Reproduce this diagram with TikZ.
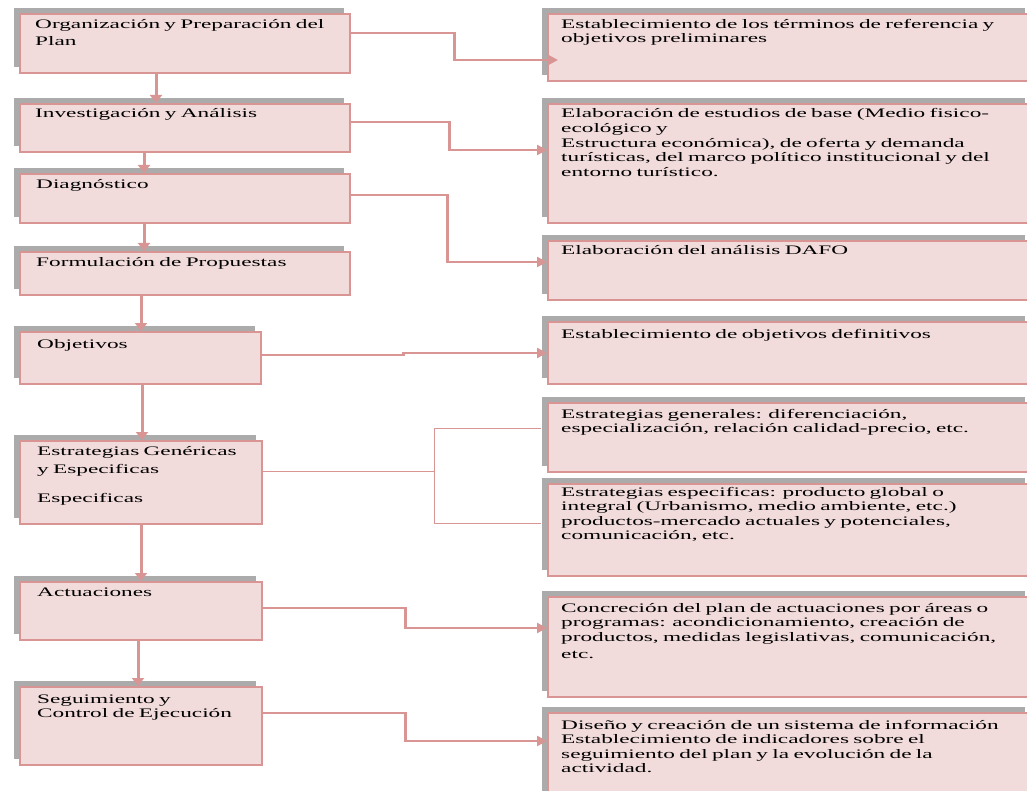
\documentclass[tikz,border=0pt]{standalone}
\usepackage{fontspec}
\setmainfont{Liberation Serif}[FakeStretch=1.79]
\usetikzlibrary{arrows.meta,shadows,calc}
\definecolor{lnc}{HTML}{D99594}
\definecolor{fil}{HTML}{F2DBDB}
\definecolor{shd}{HTML}{ABABAB}
\tikzset{
  boxsty/.style={draw=lnc, line width=1.6pt, fill=fil, anchor=north west, inner sep=0pt,
    general shadow={fill=shd, shadow xshift=-6pt, shadow yshift=6pt}},
  txt/.style={anchor=base west, inner sep=0pt, align=left, text width=#1,
    font=\fontsize{13}{14.6}\selectfont},
  conn/.style={draw=lnc, line width=2.4pt, -{Triangle[length=10pt,width=10pt]}},
  varrow/.style={draw=lnc, line width=3pt, -{Triangle[length=8pt,width=12pt]}},
  thinl/.style={draw=lnc, line width=1pt}
}
\begin{document}
\begin{tikzpicture}[x=1pt,y=-1pt]
\path[use as bounding box, clip] (0,0) rectangle (1027,791);
\fill[white] (0,0) rectangle (1027,791);
% left boxes
\node[boxsty, minimum width=330pt, minimum height=59pt] (b1) at (19,13) {};
\node[boxsty, minimum width=330pt, minimum height=48pt] (b2) at (19,103) {};
\node[boxsty, minimum width=330pt, minimum height=49pt] (b3) at (19,173) {};
\node[boxsty, minimum width=330pt, minimum height=43pt] (b4) at (19,251) {};
\node[boxsty, minimum width=241pt, minimum height=52pt] (b5) at (19,331) {};
\node[boxsty, minimum width=242pt, minimum height=83pt] (b6) at (19,440) {};
\node[boxsty, minimum width=242pt, minimum height=58pt] (b7) at (19,581) {};
\node[boxsty, minimum width=242pt, minimum height=78pt] (b8) at (19,686) {};
% right boxes
\node[boxsty, minimum width=483pt, minimum height=67pt] (r1) at (547,13) {};
\node[boxsty, minimum width=483pt, minimum height=119pt] (r2) at (547,103) {};
\node[boxsty, minimum width=483pt, minimum height=59pt] (r3) at (547,240) {};
\node[boxsty, minimum width=483pt, minimum height=62pt] (r4) at (547,321) {};
\node[boxsty, minimum width=483pt, minimum height=69pt] (r5) at (547,402) {};
\node[boxsty, minimum width=483pt, minimum height=92pt] (r6) at (547,483) {};
\node[boxsty, minimum width=483pt, minimum height=100pt] (r7) at (547,596) {};
\node[boxsty, minimum width=483pt, minimum height=100pt] (r8) at (547,712) {};
% left texts
\node[txt=310pt] (t1) at ($(b1.north west)+(16,16)$) {Organización y Preparación del\\[2.4pt]Plan};
\node[txt=310pt] (t2) at ($(b2.north west)+(16,15)$) {Investigación y  Análisis};
\node[txt=310pt] (t3) at ($(b3.north west)+(17,16)$) {Diagnóstico};
\node[txt=310pt] (t4) at ($(b4.north west)+(17,16)$) {Formulación de Propuestas};
\node[txt=230pt] (t5) at ($(b5.north west)+(18,17)$) {Objetivos};
\node[txt=230pt] (t6) at ($(b6.north west)+(18,15)$) {Estrategias Genéricas\\[3.4pt]y Especificas\\[14.4pt]Especificas};
\node[txt=230pt] (t7) at ($(b7.north west)+(18,15)$) {Actuaciones};
\node[txt=230pt] (t8) at ($(b8.north west)+(18,17)$) {Seguimiento y\\Control de Ejecución};
% right texts
\node[txt=470pt] (u1) at ($(r1.north west)+(14,16)$) {Establecimiento de los términos de referencia y\\[-0.6pt]objetivos preliminares};
\node[txt=470pt] (u2) at ($(r2.north west)+(14,15)$) {Elaboración de estudios de base (Medio fisico-\\ecológico y\\Estructura económica), de oferta y demanda\\turísticas, del marco político institucional y del\\entorno turístico.};
\node[txt=470pt] (u3) at ($(r3.north west)+(14,15)$) {Elaboración del análisis DAFO};
\node[txt=470pt] (u4) at ($(r4.north west)+(14,17)$) {Establecimiento de objetivos definitivos};
\node[txt=470pt] (u5) at ($(r5.north west)+(14,16)$) {Estrategias generales: diferenciación,\\especialización, relación calidad-precio, etc.};
\node[txt=470pt] (u6) at ($(r6.north west)+(14,13)$) {Estrategias especificas: producto global o\\integral (Urbanismo, medio ambiente, etc.)\\productos-mercado actuales y potenciales,\\comunicación, etc.};
\node[txt=470pt] (u7) at ($(r7.north west)+(14,16)$) {Concreción del plan de actuaciones por áreas o\\programas: acondicionamiento, creación de\\productos, medidas legislativas, comunicación,\\[3pt]etc.};
\node[txt=470pt] (u8) at ($(r8.north west)+(14,17)$) {Diseño y creación de un sistema de información\\Establecimiento de indicadores sobre el\\seguimiento del plan y la evolución de la\\actividad.};
% vertical arrows
\draw[varrow] ($(b1.south west)+(137,0)$) -- ($(b2.north west)+(137,0)$);
\draw[varrow] ($(b2.south west)+(125,0)$) -- ($(b3.north west)+(125,0)$);
\draw[varrow] ($(b3.south west)+(125,0)$) -- ($(b4.north west)+(125,0)$);
\draw[varrow] ($(b4.south west)+(122,0)$) -- ($(b5.north west)+(122,0)$);
\draw[varrow] ($(b5.south west)+(123,0)$) -- ($(b6.north west)+(123,0)$);
\draw[varrow] ($(b6.south west)+(122,0)$) -- ($(b7.north west)+(122,0)$);
\draw[varrow] ($(b7.south west)+(119,0)$) -- ($(b8.north west)+(119,0)$);
% horizontal connectors
\draw[conn] ($(b1.north east)+(0,20)$) -- ++(104,0) |- ($(r1.north west)+(11,47)$);
\draw[conn] ($(b2.north east)+(0,19)$) -- ++(99,0) |- ($(r2.north west)+(0,47)$);
\draw[conn] ($(b3.north east)+(0,22)$) -- ++(97,0) |- ($(r3.north west)+(0,22)$);
\draw[conn] ($(b5.north east)+(0,24)$) -- ++(142,0) |- ($(r4.north west)+(0,32)$);
\draw[thinl] ($(b6.north east)+(0,31)$) -- ++(172,0) coordinate (c5);
\draw[thinl] (c5) |- ($(r5.north west)+(-6,26)$);
\draw[thinl] (c5) |- ($(r6.north west)+(-6,40)$);
\draw[conn] ($(b7.north east)+(0,27)$) -- ++(143,0) |- ($(r7.north west)+(0,32)$);
\draw[conn] ($(b8.north east)+(0,27)$) -- ++(143,0) |- ($(r8.north west)+(0,29)$);
\end{tikzpicture}
\end{document}
